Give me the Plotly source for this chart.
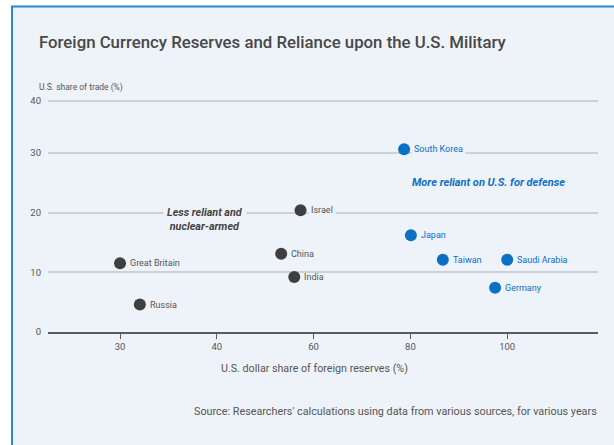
import plotly.graph_objects as go

# ---- data ----
countries = ["Great Britain", "Russia", "China", "India", "Israel",
             "South Korea", "Japan", "Taiwan", "Saudi Arabia", "Germany"]
dollar_share = [20.0, 24.1, 53.3, 56.0, 57.3, 78.7, 80.1, 86.7, 100.0, 97.5]
trade_share = [11.5, 4.6, 13.1, 9.2, 20.4, 30.6, 16.2, 12.1, 12.1, 7.4]
reliant = [False, False, False, False, False, True, True, True, True, True]

x_tickvals = [20, 40, 60, 80, 100]
x_ticktext = ["30", "40", "60", "80", "100"]
y_tickvals = [0, 10, 20, 30, 38.7]
y_ticktext = ["0", "10", "20", "30", "40"]

BG = "#EEF3FA"
DARK = "#3f3f3f"
BLUE = "#0b6fc4"
TXT = "#555555"
FONT = "Roboto"

# plot area in pixels
W, H = 614, 445
L, R, T, B = 48, 16, 95, 113
pw, ph = W - L - R, H - T - B

def px(xp):
    return (xp - L) / pw

def py(yp):
    return (H - B - yp) / ph

fig = go.Figure()

for flag, col in [(False, DARK), (True, BLUE)]:
    xs = [x for x, r in zip(dollar_share, reliant) if r == flag]
    ys = [y for y, r in zip(trade_share, reliant) if r == flag]
    fig.add_trace(go.Scatter(x=xs, y=ys, mode="markers",
                             marker=dict(size=12, color=col, line=dict(width=0)),
                             hoverinfo="skip", showlegend=False))

annotations = []
for name, x, y, r in zip(countries, dollar_share, trade_share, reliant):
    annotations.append(dict(
        x=x, y=y, xref="x", yref="y", text=name, showarrow=False,
        xanchor="left", yanchor="middle", xshift=7,
        font=dict(family=FONT, size=9, color=BLUE if r else TXT),
        bgcolor=BG if name in ("South Korea", "Israel") else None,
        borderpad=2))

annotations += [
    dict(x=37.6, y=18.9, xref="x", yref="y",
         text="<b><i>Less reliant and<br>nuclear-armed</i></b>",
         showarrow=False, font=dict(family=FONT, size=10.8, color="#444444"),
         bgcolor=BG, borderpad=3, align="center"),
    dict(x=96.2, y=25.0, xref="x", yref="y",
         text="<b><i>More reliant on U.S. for defense</i></b>",
         showarrow=False, font=dict(family=FONT, size=11, color=BLUE)),
    dict(x=px(37), y=py(42), xref="paper", yref="paper",
         text="Foreign Currency Reserves and Reliance upon the U.S. Military",
         showarrow=False, xanchor="left", yanchor="middle",
         font=dict(family=FONT, size=16.8, color="#474747", weight=500)),
    dict(x=px(37), y=py(87), xref="paper", yref="paper",
         text="U.S. share of trade (%)", showarrow=False,
         xanchor="left", yanchor="middle",
         font=dict(family=FONT, size=8.5, color=TXT)),
    dict(x=px(314), y=py(368), xref="paper", yref="paper",
         text="U.S. dollar share of foreign reserves (%)", showarrow=False,
         xanchor="center", yanchor="middle",
         font=dict(family=FONT, size=10.7, color=TXT)),
    dict(x=px(599), y=py(411), xref="paper", yref="paper",
         text="Source: Researchers' calculations using data from various sources, for various years",
         showarrow=False, xanchor="right", yanchor="middle",
         font=dict(family=FONT, size=10.8, color=TXT)),
]

shapes = [
    dict(type="rect", xref="paper", yref="paper", layer="below",
         x0=px(12), x1=px(640), y0=py(470), y1=py(6.5),
         fillcolor=BG, line=dict(color="#2a86d0", width=2)),
]

fig.update_layout(
    width=W, height=H,
    margin=dict(l=L, r=R, t=T, b=B),
    paper_bgcolor="white",
    plot_bgcolor="rgba(0,0,0,0)",
    showlegend=False,
    annotations=annotations,
    shapes=shapes,
    xaxis=dict(range=[5.12, 118.76], tickvals=x_tickvals, ticktext=x_ticktext,
               showgrid=False, zeroline=False, showline=True,
               linecolor="#5a5a5a", linewidth=1.5,
               ticks="outside", ticklen=5, tickwidth=1.2, tickcolor="#5a5a5a",
               tickfont=dict(family=FONT, size=9.5, color=TXT)),
    yaxis=dict(range=[0, 39.7], tickvals=y_tickvals, ticktext=y_ticktext,
               showgrid=True, gridcolor="#cdd0d4", gridwidth=1.5,
               zeroline=False, showline=False, ticks="",
               ticklabelstandoff=6,
               tickfont=dict(family=FONT, size=9.5, color=TXT)),
)

fig.write_html("out.html", config={"displayModeBar": False},
               post_script="document.body.style.margin='0';document.body.style.overflow='hidden';")
